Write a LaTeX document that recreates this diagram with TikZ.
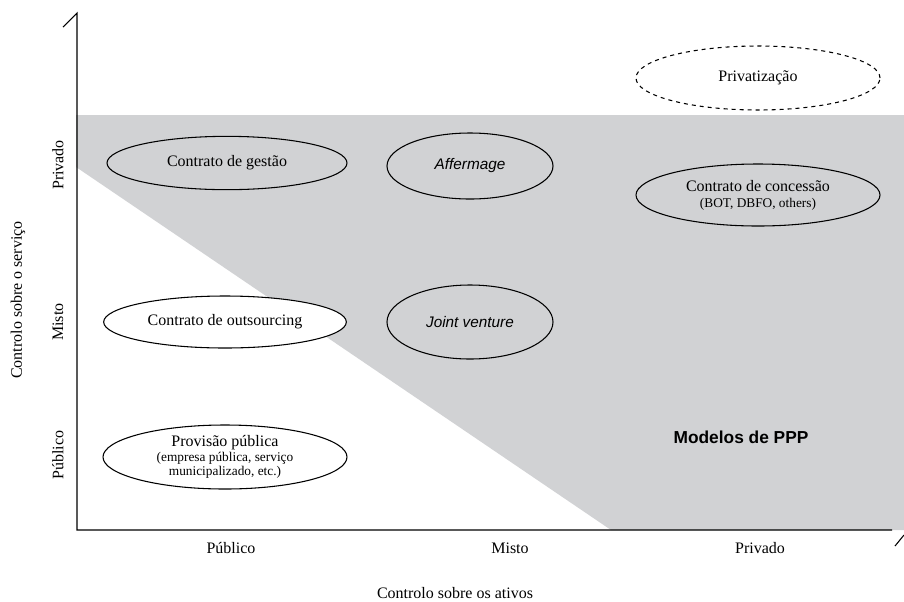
\documentclass[tikz,border=0pt]{standalone}
\usepackage{fontspec}
\setmainfont{Liberation Serif}
\newfontfamily\arialfont{Liberation Sans}
\usetikzlibrary{shapes.geometric}
\definecolor{pppgray}{RGB}{209,210,212}
\tikzset{
    model/.style={draw, ellipse, line width=0.8pt, inner sep=0pt, align=center, font=\fontsize{12}{14}\selectfont},
    italicmodel/.style={model, font=\arialfont\itshape\fontsize{11.5}{14}\selectfont},
    axislabel/.style={font=\fontsize{12}{14}\selectfont}
}
\newcommand{\smalltext}[1]{{\fontsize{10}{12}\selectfont #1}}

\begin{document}
\begin{tikzpicture}[x=0.75pt, y=-0.75pt]
        \useasboundingbox (0,0) rectangle (904,601);
        \fill [pppgray] (76,115) -- (904,115) -- (904,530) -- (611,530) -- (76,167) -- cycle;
        \draw [thick] (63,27) -- (77,13) -- (77,530) -- (892,530);
        \draw [thick] (895,546) -- (904,535);

        \node [model, dashed, fill=white, minimum width=183pt, minimum height=48pt] (privatizacao) at (758,78) {Privatização};
        \node [model, minimum width=180pt, minimum height=40pt] (gestao) at (227,163) {Contrato de gestão};
        \node [italicmodel, minimum width=124.5pt, minimum height=49.5pt] (affermage) at (470,166) {Affermage};
        \node [model, minimum width=183pt, minimum height=46.5pt] (concessao) at (758,195) {Contrato de concessão\\[-2pt]\smalltext{(BOT, DBFO, others)}};
        \node [model, fill=white, minimum width=182pt, minimum height=39pt] (outsourcing) at (225,322) {Contrato de outsourcing};
        \node [italicmodel, minimum width=124.5pt, minimum height=55.5pt] (jv) at (470,322) {Joint venture};
        \node [model, fill=white, minimum width=183pt, minimum height=48pt] (provisao) at (225,457) {Provisão pública\\[-3pt]\smalltext{(empresa pública, serviço}\\[-3pt]\smalltext{municipalizado, etc.)}};

        \node [font=\arialfont\bfseries\fontsize{13}{15}\selectfont] (ppp) at (741,437) {Modelos de PPP};

        \node [axislabel] (xpub) at (231,548) {Público};
        \node [axislabel] (xmis) at (510,548) {Misto};
        \node [axislabel] (xpriv) at (760,548) {Privado};
        \node [axislabel] (xtitle) at (455,593) {Controlo sobre os ativos};

        \node [axislabel, rotate=90] (ypriv) at (58,165) {Privado};
        \node [axislabel, rotate=90] (ymis) at (58,322) {Misto};
        \node [axislabel, rotate=90] (ypub) at (58,455) {Público};
        \node [axislabel, rotate=90] (ytitle) at (18,300) {Controlo sobre o serviço};
    \end{tikzpicture}
\end{document}
